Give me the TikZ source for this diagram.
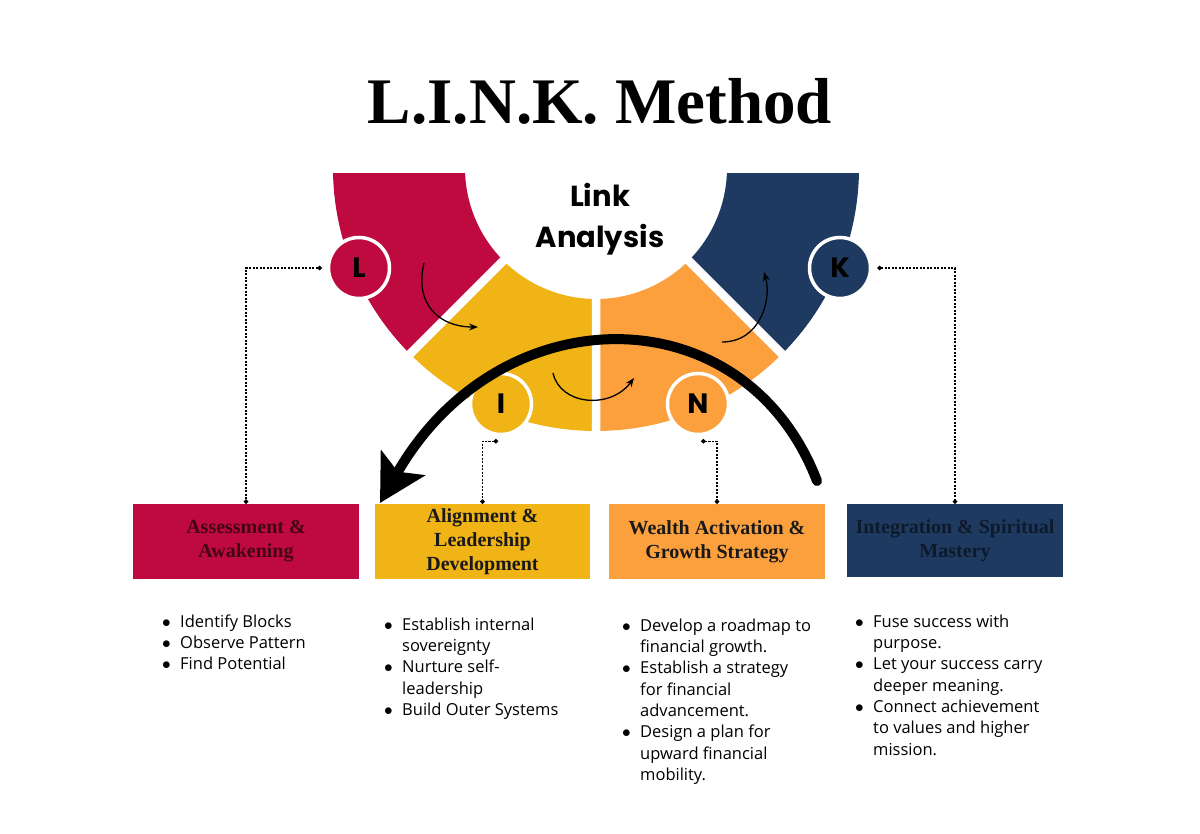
\documentclass[tikz,border=0pt]{standalone}
\usepackage{fontspec}
\setmainfont{Liberation Serif}
\newfontfamily\popfont{Poppins}
\newfontfamily\bodyfont{Open Sans}
\usepackage{tikz}
\usetikzlibrary{arrows.meta}

\definecolor{crimsonL}{RGB}{190,10,62}
\definecolor{goldI}{RGB}{241,180,22}
\definecolor{orangeN}{RGB}{252,160,62}
\definecolor{navyK}{RGB}{31,58,96}

\newcommand{\litem}[1]{\makebox[18pt][l]{$\bullet$}#1}
\newcommand{\lnext}[1]{\makebox[18pt][l]{}#1}

\begin{document}
\begin{tikzpicture}[x=1pt,y=-1pt,
    letter/.style={draw=white,circle,line width=3.5pt,minimum size=61pt,inner sep=0pt,
      font={\popfont\bfseries\fontsize{28}{28}\selectfont}},
    stage/.style={minimum height=75pt,inner sep=0pt,align=center,
      font={\bfseries\fontsize{20}{24}\selectfont}},
    link/.style={line width=1.2pt,dash pattern=on 2.2pt off 1.3pt,
      {Circle[length=4.5pt]}-{Circle[length=4.5pt]}},
    flow/.style={line width=1.3pt,-{Stealth[length=9pt,width=7pt]}},
    points/.style={anchor=north west,inner sep=0pt,align=left,
      font={\bodyfont\fontsize{16.5}{21.3}\selectfont}}]
  \useasboundingbox (0,0) rectangle (1200,834);

  % title
  \node[anchor=base,font={\bfseries\fontsize{65}{70}\selectfont}] (title) at (600,124) {L.I.N.K. Method};

  % ring of four stages
  \begin{scope}[shift={(596,168)}]
    \clip (-300,6) rectangle (300,300);
    \fill[crimsonL] (180:263) arc[start angle=180,end angle=135,radius=263]
      -- (135:131) arc[start angle=135,end angle=180,radius=131] -- cycle;
    \fill[goldI] (135:263) arc[start angle=135,end angle=90,radius=263]
      -- (90:131) arc[start angle=90,end angle=135,radius=131] -- cycle;
    \fill[orangeN] (90:263) arc[start angle=90,end angle=45,radius=263]
      -- (45:131) arc[start angle=45,end angle=90,radius=131] -- cycle;
    \fill[navyK] (45:263) arc[start angle=45,end angle=0,radius=263]
      -- (0:131) arc[start angle=0,end angle=45,radius=131] -- cycle;
    \draw[white,line width=8.5pt] (135:120) -- (135:280) (90:120) -- (90:280) (45:120) -- (45:280);
  \end{scope}

  \node[font={\popfont\bfseries\fontsize{29}{41}\selectfont},align=center] (hub) at (600,219) {Link\\Analysis};

  \node[letter,fill=crimsonL] (Lc) at (359,268) {L};
  \node[letter,fill=goldI] (Ic) at (501,404) {I};
  \node[letter,fill=orangeN] (Nc) at (698,404) {N};
  \node[letter,fill=navyK] (Kc) at (840,268) {K};

  % flow between the stages
  \coordinate (lout) at (424,263);
  \coordinate (iin) at (478,327);
  \coordinate (iout) at (553,373);
  \coordinate (nin) at (634,378);
  \coordinate (nout) at (722,342);
  \coordinate (kin) at (764,272);
  \draw[flow] (lout) .. controls (414,305) and (440,327) .. (iin);
  \draw[flow] (iout) .. controls (560,405) and (610,410) .. (nin);
  \draw[flow] (nout) .. controls (760,342) and (772,300) .. (kin);

  % stage boxes
  \node[stage,fill=crimsonL,minimum width=226pt,text=crimsonL!35!black] (box1) at (246,541.5) {Assessment \&\\Awakening};
  \node[stage,fill=goldI,minimum width=215pt,text=black!90] (box2) at (482.5,541.5) {Alignment \&\\Leadership\\Development};
  \node[stage,fill=orangeN,minimum width=216pt,text=black!90] (box3) at (717,541.5) {Wealth Activation \&\\Growth Strategy};
  \node[stage,fill=navyK,minimum width=216pt,minimum height=73pt,text=navyK!45!black] (box4) at (955,540.5) {Integration \& Spiritual\\Mastery};

  \draw[link] ([xshift=-5pt]Lc.west) -| (box1.north);
  \draw[link] ([xshift=-3pt,yshift=-5pt]Ic.south) -| (box2.north);
  \draw[link] ([xshift=3pt,yshift=-5pt]Nc.south) -| (box3.north);
  \draw[link] ([xshift=5pt]Kc.east) -| (box4.north);

  % big return arrow
  \coordinate (loopstart) at (817,481);
  \coordinate (loopend) at (380,503);
  \draw[line width=10pt,line cap=round,-{Stealth[length=46pt,width=50pt,inset=10pt]}]
    (loopstart) .. controls (745,293) and (500,293) .. (loopend);

  % bullet lists
  \node[points] (list1) at (162,614.5) {\litem{Identify Blocks}\\\litem{Observe Pattern}\\\litem{Find Potential}};
  \node[points] (list2) at (384,617.5) {\litem{Establish internal}\\\lnext{sovereignty}\\\litem{Nurture self-}\\\lnext{leadership}\\\litem{Build Outer Systems}};
  \node[points] (list3) at (622,618.5) {\litem{Develop a roadmap to}\\\lnext{financial growth.}\\\litem{Establish a strategy}\\\lnext{for financial}\\\lnext{advancement.}\\\litem{Design a plan for}\\\lnext{upward financial}\\\lnext{mobility.}};
  \node[points] (list4) at (855,614.5) {\litem{Fuse success with}\\\lnext{purpose.}\\\litem{Let your success carry}\\\lnext{deeper meaning.}\\\litem{Connect achievement}\\\lnext{to values and higher}\\\lnext{mission.}};
\end{tikzpicture}
\end{document}
